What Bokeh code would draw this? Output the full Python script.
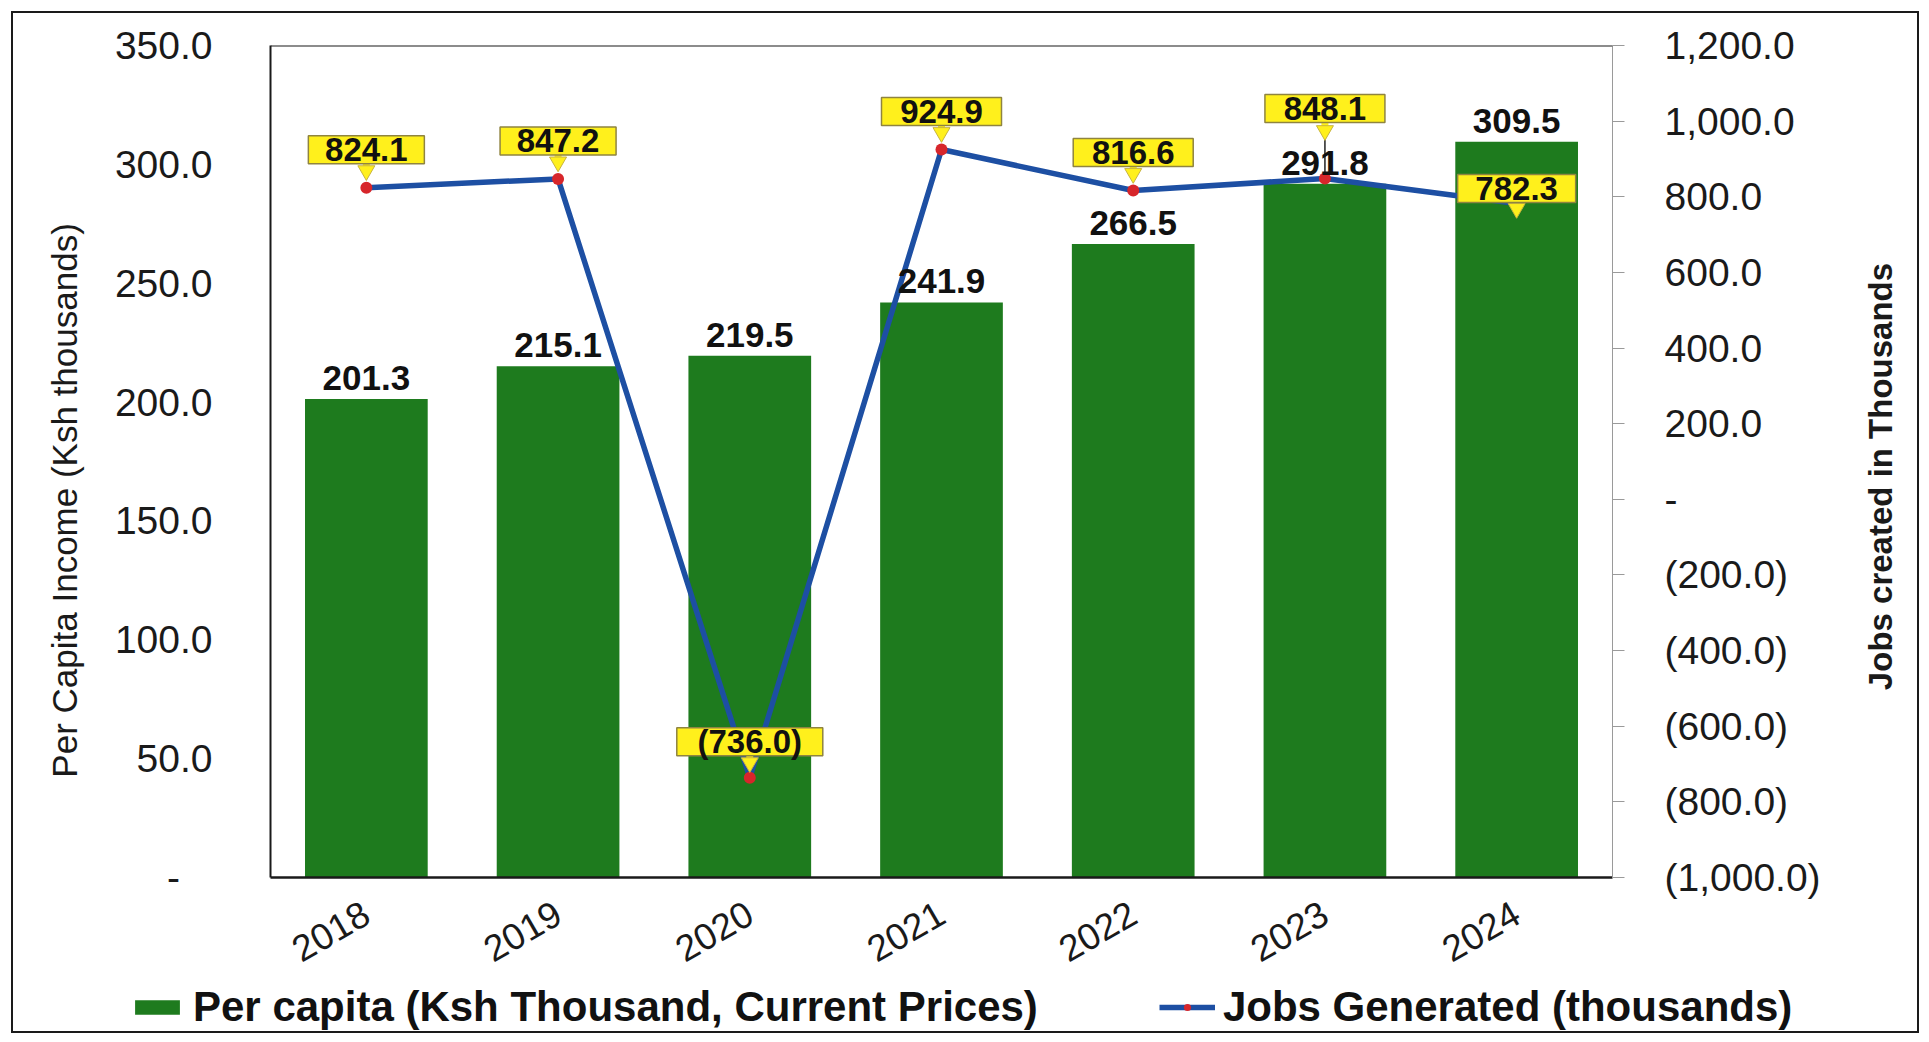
import math
from bokeh.plotting import figure
from bokeh.layouts import column, row
from bokeh.models import (ColumnDataSource, LinearAxis, Range1d, FixedTicker, LabelSet,
                          Legend, LegendItem, Span, Label)
from bokeh.embed import file_html
from bokeh.resources import INLINE
from bokeh.core.properties import value

# ---------------- data ----------------
years = ["2018", "2019", "2020", "2021", "2022", "2023", "2024"]
per_capita = [201.3, 215.1, 219.5, 241.9, 266.5, 291.8, 309.5]
jobs = [824.1, 847.2, -736.0, 924.9, 816.6, 848.1, 782.3]
jobs_text = ["824.1", "847.2", "(736.0)", "924.9", "816.6", "848.1", "782.3"]
per_capita_text = ["201.3", "215.1", "219.5", "241.9", "266.5", "291.8", "309.5"]

left_ticks = [0, 50, 100, 150, 200, 250, 300, 350]
left_tick_labels = ["-\u2007\u2008", "50.0", "100.0", "150.0", "200.0", "250.0", "300.0", "350.0"]
right_ticks = [-1000, -800, -600, -400, -200, 0, 200, 400, 600, 800, 1000, 1200]
right_tick_labels = ["(1,000.0)", "(800.0)", "(600.0)", "(400.0)", "(200.0)", "-",
                     "200.0", "400.0", "600.0", "800.0", "1,000.0", "1,200.0"]

bar_name = "Per capita (Ksh Thousand, Current Prices)"
line_name = "Jobs Generated (thousands)"
left_title = "Per Capita Income (Ksh thousands)"
right_title = "Jobs created in Thousands"

# ---------------- style (screen px for callouts) ----------------
box_dy = [38, 38, 36, 38, 38, 70, 15]
box_w = [116, 116, 146, 120, 120, 120, 118]
box_h = 28
arrow_dy = [17, 17, 15, 17, 17, 48, -5]

FONT = "Liberation Sans"
BAR_COLOR = "#1E7B1E"
LINE_COLOR = "#1D4FA3"
DOT_COLOR = "#D7262B"
YELLOW = "#FFF01C"
W_TOTAL = 1904
W_MAIN = 1837
W_RT = W_TOTAL - W_MAIN
H_MAIN, H_LEG = 970, 48
MB_L, MB_T = 257, 32
MB_R = W_MAIN - 1599
MB_B = H_MAIN - 864
frame_h = H_MAIN - MB_T - MB_B

y_lo, y_hi = 0, 350
j_lo, j_hi = -1000, 1200
upp = (j_hi - j_lo) / frame_h  # jobs-units per screen px

p = figure(x_range=years, y_range=Range1d(y_lo, y_hi), width=W_MAIN, height=H_MAIN,
           output_backend="svg", toolbar_location=None,
           min_border_left=MB_L, min_border_right=MB_R,
           min_border_top=MB_T, min_border_bottom=MB_B)
p.frame_align = False
p.extra_y_ranges = {"jobs": Range1d(j_lo, j_hi)}
p.outline_line_color = None
p.xgrid.visible = False
p.ygrid.visible = False
p.background_fill_color = "white"

# top frame edge
p.add_layout(Span(location=y_hi, dimension="width", line_color="#1a1a1a", line_width=2))

src = ColumnDataSource(dict(
    year=years, pc=per_capita, jobs=jobs, jt=jobs_text, pct=per_capita_text,
    bdy=box_dy, bw=box_w,
    by=[j + d * upp for j, d in zip(jobs, box_dy)],
    ay=[j + d * upp for j, d in zip(jobs, arrow_dy)],
    sy=[j + (d + 7) * upp for j, d in zip(jobs, arrow_dy)],
))

p.vbar(x="year", top="pc", bottom=0, width=0.64, source=src,
       fill_color=BAR_COLOR, line_color=None)

# leader line for the 2023 callout
lead = ColumnDataSource(dict(x=[years[5]], y0=[jobs[5]],
                             y1=[jobs[5] + (box_dy[5] - 14) * upp]))
p.segment(x0="x", y0="y0", x1="x", y1="y1", source=lead, y_range_name="jobs",
          line_color="#222222", line_width=1.5)

p.line(x="year", y="jobs", source=src, y_range_name="jobs",
       line_color=LINE_COLOR, line_width=5.5)
p.scatter(x="year", y="jobs", source=src, y_range_name="jobs",
          size=12, fill_color=DOT_COLOR, line_color=None)

# bar value labels
p.add_layout(LabelSet(x="year", y="pc", text="pct", source=src, y_offset=9,
                      text_align="center", text_baseline="bottom",
                      text_font=value(FONT), text_font_style="bold",
                      text_font_size="35px", text_color="#111111"))

# yellow arrows under callouts (stem + head)
p.rect(x="year", y="sy", source=src, y_range_name="jobs", width=7, height=8,
       width_units="screen", height_units="screen",
       fill_color=YELLOW, line_color=None)
p.scatter(x="year", y="ay", source=src, y_range_name="jobs", marker="inverted_triangle",
          size=17, fill_color=YELLOW, line_color="#C8B440", line_width=1)

# callout boxes + text
p.rect(x="year", y="by", source=src, y_range_name="jobs", width="bw", height=box_h,
       width_units="screen", height_units="screen",
       fill_color=YELLOW, line_color="#8F8440", line_width=1.5)
p.add_layout(LabelSet(x="year", y="jobs", text="jt", source=src, y_range_name="jobs",
                      y_offset="bdy", text_align="center", text_baseline="middle",
                      text_font=value(FONT), text_font_style="bold",
                      text_font_size="33px", text_color="#111111"))

# left axis
ya = p.yaxis[0]
ya.ticker = FixedTicker(ticks=left_ticks)
ya.major_label_overrides = {t: s for t, s in zip(left_ticks, left_tick_labels)}
ya.major_label_text_font = FONT
ya.major_label_text_font_size = "39px"
ya.major_label_text_color = "#1a1a1a"
ya.major_tick_line_color = None
ya.minor_tick_line_color = None
ya.major_label_standoff = 52
ya.axis_line_color = "#1a1a1a"
ya.axis_line_width = 2
ya.axis_label = left_title + "\u2007\u2007\u2007\u2007"
ya.axis_label_text_font = FONT
ya.axis_label_text_font_style = "normal"
ya.axis_label_text_font_size = "35px"
ya.axis_label_text_color = "#1a1a1a"
ya.axis_label_standoff = 28

# right axis (title drawn in the strip to its right)
ra = LinearAxis(y_range_name="jobs", ticker=FixedTicker(ticks=right_ticks))
ra.major_label_overrides = {t: s for t, s in zip(right_ticks, right_tick_labels)}
ra.major_label_text_font = FONT
ra.major_label_text_font_size = "39px"
ra.major_label_text_color = "#1a1a1a"
ra.major_tick_line_color = "#9a9a9a"
ra.major_tick_out = 12
ra.major_tick_in = 0
ra.minor_tick_line_color = None
ra.major_label_standoff = 40
ra.axis_line_color = "#9a9a9a"
ra.axis_line_width = 1
p.add_layout(ra, "right")

# x axis
xa = p.xaxis[0]
xa.major_label_orientation = math.pi / 6
xa.major_label_text_font = FONT
xa.major_label_text_font_size = "37px"
xa.major_label_text_color = "#1a1a1a"
xa.major_tick_line_color = None
xa.major_label_standoff = 27
xa.axis_line_color = "#1a1a1a"
xa.axis_line_width = 2.5
p.x_range.range_padding = 0.0

# ---------------- right title strip ----------------
r = figure(width=W_RT, height=H_MAIN, x_range=Range1d(0, W_RT), y_range=Range1d(0, H_MAIN),
           output_backend="svg", toolbar_location=None,
           min_border_left=0, min_border_right=0, min_border_top=0, min_border_bottom=0)
r.frame_align = False
r.axis.visible = False
r.xgrid.visible = False
r.ygrid.visible = False
r.outline_line_color = None
r.add_layout(Label(x=30, y=H_MAIN - 463, text=right_title, angle=math.pi / 2,
                   text_align="center", text_baseline="middle",
                   text_font=FONT, text_font_style="bold",
                   text_font_size="33px", text_color="#1a1a1a"))

# ---------------- legend strip ----------------
q = figure(width=W_TOTAL, height=H_LEG, x_range=years, y_range=Range1d(5000, 6000),
           output_backend="svg", toolbar_location=None,
           min_border_left=0, min_border_right=0, min_border_top=0, min_border_bottom=0)
q.frame_align = False
q.axis.visible = False
q.xgrid.visible = False
q.ygrid.visible = False
q.outline_line_color = None
lb = q.vbar(x="year", top="pc", width=0.5, source=src, fill_color=BAR_COLOR, line_color=None)
ll = q.line(x="year", y="jobs", source=src, line_color=LINE_COLOR, line_width=5.5)
ld = q.scatter(x="year", y="jobs", source=src, size=11, fill_color=DOT_COLOR, line_color=None)

legend = Legend(items=[
    LegendItem(label=bar_name, renderers=[lb]),
    LegendItem(label=line_name, renderers=[ll, ld]),
], orientation="horizontal", location=(116, 0))
legend.label_text_font = FONT
legend.label_text_font_style = "bold"
legend.label_text_font_size = "42px"
legend.label_text_color = "#111111"
legend.glyph_width = 56
legend.glyph_height = 18
legend.label_standoff = 8
legend.spacing = 121
legend.padding = 0
legend.margin = 0
legend.border_line_color = None
legend.background_fill_alpha = 0
q.add_layout(legend)

layout = column(row(p, r, spacing=0), q, spacing=0,
                styles={"border": "2px solid #1a1a1a", "margin": "11px 0 0 11px"})

open("out.html", "w").write(file_html(layout, INLINE))
